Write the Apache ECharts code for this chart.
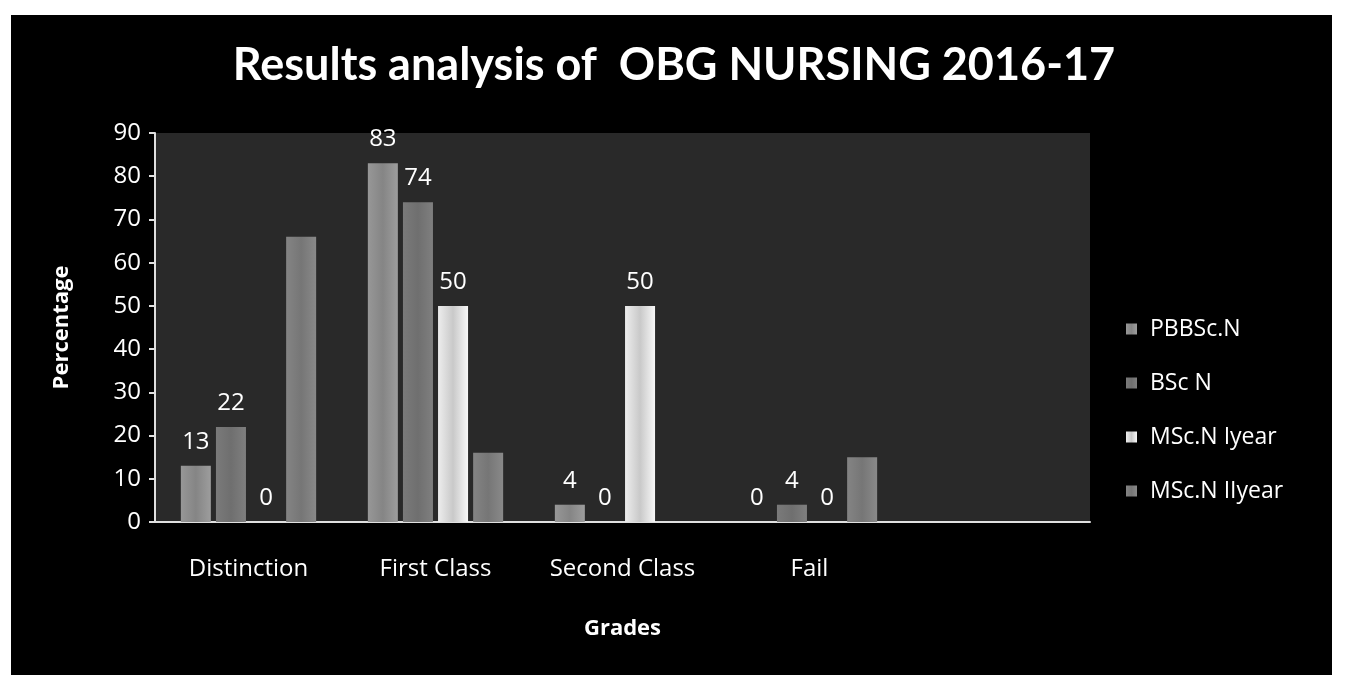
<!DOCTYPE html>
<html>
<head>
    <meta charset="utf-8">
    <title>Results analysis of OBG NURSING 2016-17</title>
    <script src="https://cdn.jsdelivr.net/npm/echarts@6/dist/echarts.min.js"></script>
    <style>
        html, body { margin: 0; padding: 0; background: #fff; }
        #panel { position: absolute; left: 11px; top: 15px; width: 1321px; height: 660px; background: #000; }
        #container { position: absolute; left: -11px; top: -15px; width: 1348px; height: 685px; }
    </style>
</head>
<body>
    <div id="panel"><div id="container"></div></div>
<script type="text/javascript">
    // grades on the x axis (last slot is empty in the original chart)
    var grades = ['Distinction', 'First Class', 'Second Class', 'Fail', ''];
    var seriesNames = ['PBBSc.N', 'BSc N', 'MSc.N Iyear', 'MSc.N IIyear'];

    var pbbscN = [13, 83, 4, 0, null];
    var bscN = [22, 74, 0, 4, null];
    var mscN1 = [0, 50, 50, 0, null];
    var mscN2 = [66, 16, null, 15, null];

    var yTicks = { min: 0, max: 90, interval: 10 };

    var barColors = ['#7e7e7e', '#666666', '#c6c6c6', '#6e6e6e'];
    var font = '"Open Sans", Lato, sans-serif';
    var titleFont = 'Lato, "Open Sans", sans-serif';

    function makeSeries(name, data, color, showLabel) {
        return {
            name: name,
            type: 'bar',
            data: data,
            barWidth: 30,
            barGap: '17%',
            itemStyle: {
                color: {
                    type: 'linear', x: 0, y: 0, x2: 1, y2: 0,
                    colorStops: [
                        { offset: 0, color: echarts.color.lift(color, -0.2) },
                        { offset: 0.5, color: echarts.color.lift(color, 0.06) },
                        { offset: 1, color: echarts.color.lift(color, -0.25) }
                    ]
                }
            },
            label: {
                show: showLabel,
                position: 'top',
                distance: 12,
                color: '#fff',
                fontSize: 24,
                fontFamily: font
            }
        };
    }

    var dom = document.getElementById("container");
    var myChart = echarts.init(dom);
    var option = {
        backgroundColor: 'transparent',
        title: {
            text: 'Results analysis of  OBG NURSING 2016-17',
            left: 'center',
            top: 38,
            textStyle: {
                color: '#fff',
                fontSize: 45,
                fontWeight: 'bold',
                fontFamily: titleFont
            }
        },
        legend: {
            orient: 'vertical',
            left: 1121,
            top: 312,
            itemWidth: 11,
            itemHeight: 11,
            itemGap: 30,
            icon: 'rect',
            data: seriesNames,
            textStyle: {
                color: '#fff',
                fontSize: 23,
                lineHeight: 24,
                fontFamily: font,
                padding: [0, 0, 0, 8]
            }
        },
        grid: {
            left: 155,
            right: 258,
            top: 133,
            bottom: 163,
            show: true,
            backgroundColor: '#292929',
            borderWidth: 0
        },
        xAxis: {
            type: 'category',
            data: grades,
            name: 'Grades',
            nameLocation: 'middle',
            nameGap: 96,
            nameTextStyle: {
                color: '#fff',
                fontSize: 22,
                fontWeight: 'bold',
                fontFamily: font
            },
            axisLine: { lineStyle: { color: '#e0e0e0', width: 2 } },
            axisTick: { show: false },
            axisLabel: {
                color: '#fff',
                fontSize: 24,
                margin: 35,
                interval: 0,
                fontFamily: font
            }
        },
        yAxis: {
            type: 'value',
            min: yTicks.min,
            max: yTicks.max,
            interval: yTicks.interval,
            name: 'Percentage',
            nameLocation: 'middle',
            nameGap: 82,
            nameTextStyle: {
                color: '#fff',
                fontSize: 22,
                fontWeight: 'bold',
                fontFamily: font
            },
            axisLine: { show: true, lineStyle: { color: '#e0e0e0', width: 2 } },
            axisTick: { show: true, length: 6, lineStyle: { color: '#e0e0e0', width: 2 } },
            splitLine: { show: false },
            axisLabel: {
                color: '#fff',
                fontSize: 24,
                margin: 14,
                fontFamily: font
            }
        },
        series: [
            makeSeries(seriesNames[0], pbbscN, barColors[0], true),
            makeSeries(seriesNames[1], bscN, barColors[1], true),
            makeSeries(seriesNames[2], mscN1, barColors[2], true),
            makeSeries(seriesNames[3], mscN2, barColors[3], false)
        ]
    };
    if (option && typeof option === "object") {
        myChart.setOption(option, true);
    }
</script>
</body>
</html>
